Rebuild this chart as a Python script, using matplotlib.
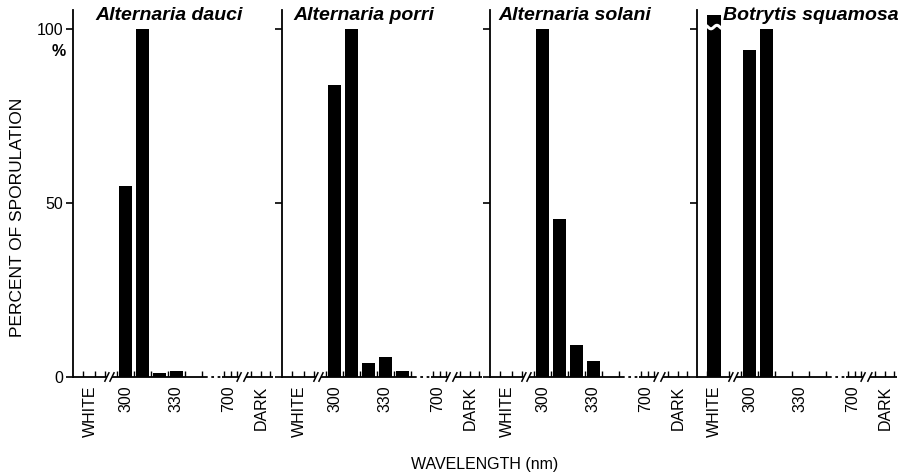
import matplotlib.pyplot as plt
import numpy as np

plt.rc('font', family=['Liberation Sans', 'DejaVu Sans'], size=11.5)

# Data ========================================================================
species = ['Alternaria dauci', 'Alternaria porri', 'Alternaria solani', 'Botrytis squamosa']
wavelengths = ['WHITE', '300', '310', '320', '330', '340', '350', '700', 'DARK']
dauci = [0, 55, 100, 1.1, 1.7, 0, 0, 0, 0]
porri = [0, 84, 100, 4.0, 5.7, 1.7, 0, 0, 0]
solani = [0, 100, 45.4, 9.2, 4.6, 0, 0, 0, 0]
squamosa = [104, 94, 100, 0, 0, 0, 0, 0, 0]   # WHITE bar goes off scale (broken)
tick_labels = ['WHITE', '300', '330', '700', 'DARK']
yticks = [0, 50, 100]

# Layout ======================================================================
W, H = 899, 476
xpos = [0, 2.1, 3.1, 4.1, 5.1, 6.1, 7.1, 8.2, 10.1]   # broken wavelength axis
panel_left = [73, 282, 490, 697]
title_off = [0.11, 0.055, 0.04, 0.13]
xmin, xmax = -1.0, 10.8

fig = plt.figure(figsize=(W / 100, H / 100), dpi=100)

for i, (name, vals) in enumerate(zip(species, [dauci, porri, solani, squamosa])):
    ax = fig.add_axes([panel_left[i] / W, 99 / H, 200 / W, 367 / H])
    ax.bar(xpos, vals, width=0.78, color='black')
    ax.set_xlim(xmin, xmax)
    ax.set_ylim(0, 105.5)
    for s in ['top', 'right', 'bottom']:
        ax.spines[s].set_visible(False)
    ax.spines['left'].set_linewidth(1.3)

    ax.set_yticks(yticks)
    ax.set_yticklabels([str(v) for v in yticks] if i == 0 else [])
    ax.tick_params(axis='y', direction='out', length=5, width=1.2, pad=2)

    lab_pos = [xpos[wavelengths.index(t)] for t in tick_labels]
    ax.set_xticks(lab_pos)
    ax.set_xticklabels(tick_labels, rotation=90)
    ax.tick_params(axis='x', length=0, pad=6)

    # broken baseline
    segs = [(xmin, 1.0), (1.3, 6.8), (7.8, 8.8), (9.2, xmax)]
    for a, b in segs:
        ax.plot([a, b], [0, 0], color='k', lw=1.3, clip_on=False, solid_capstyle='butt')
    ax.plot([6.8, 7.8], [0, 0], color='k', lw=1.3, ls=(0, (1.5, 2)), clip_on=False)
    for x in [1.0, 1.3, 8.8, 9.2]:
        ax.plot([x - 0.12, x + 0.12], [-1.2, 1.2], color='k', lw=1.1, clip_on=False)
    minor = [-0.4, 0.3, 0.9, 1.6, 2.6, 3.6, 4.6, 5.6, 6.6, 7.9, 8.3, 8.7, 9.5, 10.1, 10.6]
    ax.vlines(minor, 0, 1.6, color='k', lw=1.0)

    if i == 3:
        # break mark on the off-scale WHITE bar
        xs = np.linspace(-0.45, 0.45, 30)
        ax.plot(xs, 100.6 + 0.5 * np.sin(xs * 9), color='white', lw=2.2)

    ax.text(title_off[i], 104, name, transform=ax.get_yaxis_transform(),
            fontsize=14, fontweight='bold', fontstyle='italic', va='center', ha='left')
    if i == 0:
        ax.text(-0.07, 93.5, '%', transform=ax.get_yaxis_transform(),
                fontsize=11.5, fontweight='bold', ha='center', va='center')

fig.text(18 / W, 1 - 217 / H, 'PERCENT OF SPORULATION', rotation=90,
         ha='center', va='center', fontsize=12.5)
fig.text(485 / W, 1 - 465 / H, 'WAVELENGTH (nm)', ha='center', va='center', fontsize=11.5)

fig.savefig('out.png', dpi=100)
plt.close()
